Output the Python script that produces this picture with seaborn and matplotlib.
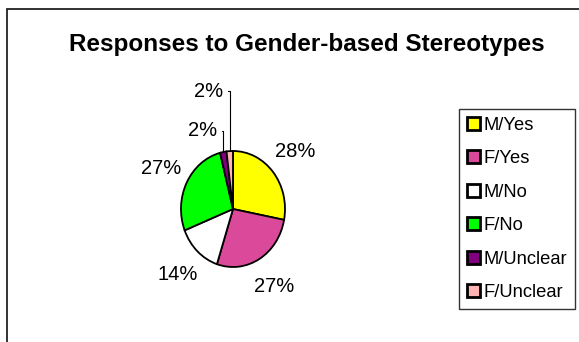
import matplotlib
matplotlib.use("Agg")
import matplotlib.pyplot as plt
from matplotlib.patches import Rectangle
import numpy as np
import seaborn as sns

categories = ["M/Yes", "F/Yes", "M/No", "F/No", "M/Unclear", "F/Unclear"]
values = [28, 27, 14, 27, 2, 2]
colors = ["#FFFF00", "#DB4A9A", "#FFFFFF", "#00FF00", "#800080", "#FFB3B3"]
title = "Responses to Gender-based Stereotypes"

sns.set_theme(style="white")
plt.rcParams["font.family"] = ["Liberation Sans", "DejaVu Sans"]
plt.rcParams["text.color"] = "black"

W, H = 579, 342
fig = plt.figure(figsize=(W / 100, H / 100), dpi=100)
fig.patch.set_facecolor("white")

# pie bbox in pixels
px_l, px_r, px_t, px_b = 181, 285, 151, 267
ax = fig.add_axes([px_l / W, 1 - px_b / H, (px_r - px_l) / W, (px_b - px_t) / H])

wedges, texts, autotexts = ax.pie(
    values, colors=colors, startangle=90, counterclock=False,
    autopct="%d%%", pctdistance=1.55,
    wedgeprops=dict(edgecolor="black", linewidth=1.3),
    textprops=dict(fontsize=14.5, color="black"),
)
ax.set_aspect("auto")
ax.set_xlim(-1, 1)
ax.set_ylim(-1, 1)
ax.axis("off")

# small slices: move labels up with leader lines
for i, (tx, ty) in zip([4, 5], [(-0.31, 1.35), (-0.19, 2.03)]):
    w = wedges[i]
    ang = np.deg2rad((w.theta1 + w.theta2) / 2)
    autotexts[i].set_visible(False)
    ax.annotate(
        f"{values[i]}%", xy=(np.cos(ang), np.sin(ang)), xytext=(tx, ty),
        ha="right", va="center", fontsize=14.5, color="black",
        annotation_clip=False,
        arrowprops=dict(arrowstyle="-", color="black", lw=0.8,
                        connectionstyle="angle,angleA=0,angleB=90,rad=0",
                        shrinkA=1, shrinkB=0, relpos=(1, 0.5)),
    )

fig.text(307 / W, 1 - 44 / H, title, ha="center", va="center",
         fontsize=17.5, fontweight="bold", color="black")

leg = fig.legend(wedges, categories, loc="upper left",
                 bbox_to_anchor=(459 / W, 1 - 109 / H), borderaxespad=0,
                 fontsize=13.2, frameon=True, fancybox=False,
                 handlelength=0.7, handleheight=0.7, handletextpad=0.2,
                 labelspacing=0.9, borderpad=0.42, labelcolor="black")
leg.get_frame().set_edgecolor("black")
leg.get_frame().set_linewidth(1.0)
for h in leg.legend_handles:
    h.set_linewidth(2.0)

fig.add_artist(Rectangle((7 / W, -0.1), 1.2, 1.1 - 9 / H, transform=fig.transFigure,
                         fill=False, edgecolor="#222222", linewidth=1.3))

fig.savefig("out.png", dpi=100)
